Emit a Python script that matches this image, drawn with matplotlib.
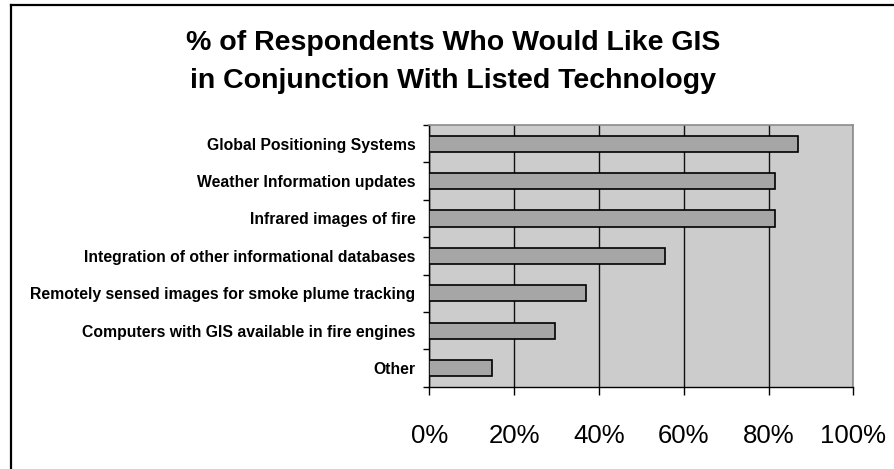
import matplotlib
matplotlib.use("Agg")
import matplotlib.pyplot as plt
from matplotlib.lines import Line2D
import numpy as np

plt.rcParams['font.family'] = ['Liberation Sans', 'DejaVu Sans']

title = "% of Respondents Who Would Like GIS\nin Conjunction With Listed Technology"
categories = [
    "Global Positioning Systems",
    "Weather Information updates",
    "Infrared images of fire",
    "Integration of other informational databases",
    "Remotely sensed images for smoke plume tracking",
    "Computers with GIS available in fire engines",
    "Other",
]
percent = [87.0, 81.5, 81.5, 55.5, 37.0, 29.6, 14.8]
x_ticks = [0, 20, 40, 60, 80, 100]
x_tick_labels = ["0%", "20%", "40%", "60%", "80%", "100%"]

W, H = 895, 469
fig = plt.figure(figsize=(W / 100, H / 100), dpi=100)
fig.patch.set_facecolor("white")

# plot area placed in pixel coordinates
left, right, top, bottom = 429.5, 853.3, 125.0, 386.7
ax = fig.add_axes([left / W, 1 - bottom / H, (right - left) / W, (bottom - top) / H])
ax.set_facecolor("#cccccc")

y = np.arange(len(categories))
ax.barh(y, percent, height=0.43, color="#a6a6a6", edgecolor="black",
        linewidth=1.2, zorder=3)

ax.set_xlim(0, 100)
ax.set_ylim(len(categories) - 0.5, -0.5)

ax.set_xticks(x_ticks)
ax.set_xticklabels(x_tick_labels, fontsize=18.5)
ax.tick_params(axis="x", direction="out", length=6, width=1, color="black", pad=21)

ax.set_yticks(y)
ax.set_yticklabels(categories, fontsize=11.3, fontweight="bold")
ax.tick_params(axis="y", which="major", length=0, pad=10)
ax.set_yticks(np.arange(-0.5, len(categories) + 0.5, 1.0), minor=True)
ax.tick_params(axis="y", which="minor", direction="out", length=4.5, width=1,
               color="black")

ax.xaxis.grid(True, color="#111111", linewidth=1.0, zorder=1)
ax.set_axisbelow(True)

for s in ("left", "bottom"):
    ax.spines[s].set_color("black")
    ax.spines[s].set_linewidth(1.0)
for s in ("top", "right"):
    ax.spines[s].set_color("#8c8c8c")
    ax.spines[s].set_linewidth(1.2)

fig.text(453 / W, 1 - 61.5 / H, title, ha="center", va="center",
         fontsize=20.5, fontweight="bold", linespacing=1.6)

# outer frame (top and left edges)
fig.add_artist(Line2D([11 / W, 11 / W], [0, 1 - 5 / H], color="black",
                      linewidth=1.6, transform=fig.transFigure))
fig.add_artist(Line2D([11 / W, 1], [1 - 5 / H, 1 - 5 / H], color="black",
                      linewidth=1.6, transform=fig.transFigure))

fig.savefig("out.png", dpi=100)
